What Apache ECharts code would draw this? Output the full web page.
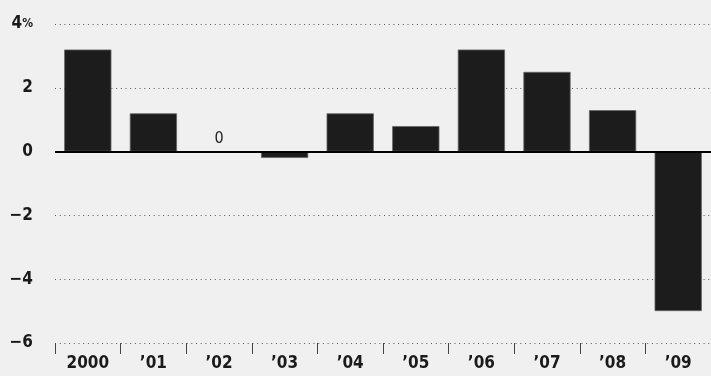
<!DOCTYPE html>
<html>
<head>
<meta charset="utf-8">
<style>
  html, body { margin: 0; padding: 0; background: #f0f0f0; }
  #chart { width: 711px; height: 376px; }
</style>
<script src="https://cdn.jsdelivr.net/npm/echarts@6/dist/echarts.min.js"></script>
</head>
<body>
<div id="chart"></div>
<script>
// 年份和数值
var years = ['2000', '\u201901', '\u201902', '\u201903', '\u201904', '\u201905', '\u201906', '\u201907', '\u201908', '\u201909'];
var values = [3.2, 1.2, 0, -0.2, 1.2, 0.8, 3.2, 2.5, 1.3, -5.0];
var yTicks = { '4': '4{p|%}', '2': '2', '0': '0', '-2': '\u22122', '-4': '\u22124', '-6': '\u22126' };

var font = "'Liberation Sans Narrow', 'DejaVu Sans Condensed', sans-serif";

var chart = echarts.init(document.getElementById('chart'));
var option = {
    backgroundColor: '#f0f0f0',
    animation: false,
    grid: { left: 55, right: 0, top: 24, bottom: 33 },
    xAxis: {
        type: 'category',
        data: years,
        position: 'bottom',
        axisLine: { show: false, onZero: false },
        axisTick: { show: true, alignWithLabel: false, length: 11, lineStyle: { color: '#444', width: 1 } },
        axisLabel: { color: '#1a1a1a', fontFamily: font, fontWeight: 'bold', fontSize: 17, margin: 12 }
    },
    yAxis: {
        type: 'value',
        min: -6,
        max: 4,
        interval: 2,
        axisLine: { show: false },
        axisTick: { show: false },
        splitLine: { lineStyle: { color: '#555', type: [1, 3.7], width: 1 } },
        axisLabel: {
            margin: 22,
            color: '#1a1a1a',
            fontFamily: font,
            fontWeight: 'bold',
            fontSize: 17,
            formatter: function (v) { return yTicks[String(v)]; },
            rich: { p: { fontFamily: font, fontSize: 12, fontWeight: 'bold', color: '#1a1a1a' } }
        }
    },
    series: [{
        type: 'bar',
        data: values,
        barCategoryGap: '28%',
        itemStyle: { color: '#1c1c1c', borderColor: '#666', borderWidth: 0.8 },
        label: {
            show: true,
            position: 'top',
            distance: 4,
            fontFamily: font,
            fontSize: 16,
            color: '#222',
            formatter: function (p) { return p.value === 0 ? '0' : ''; }
        },
        markLine: {
            silent: true,
            symbol: 'none',
            label: { show: false },
            lineStyle: { color: '#000', type: 'solid', width: 2 },
            data: [{ yAxis: 0 }]
        }
    }]
};
chart.setOption(option);
</script>
</body>
</html>
